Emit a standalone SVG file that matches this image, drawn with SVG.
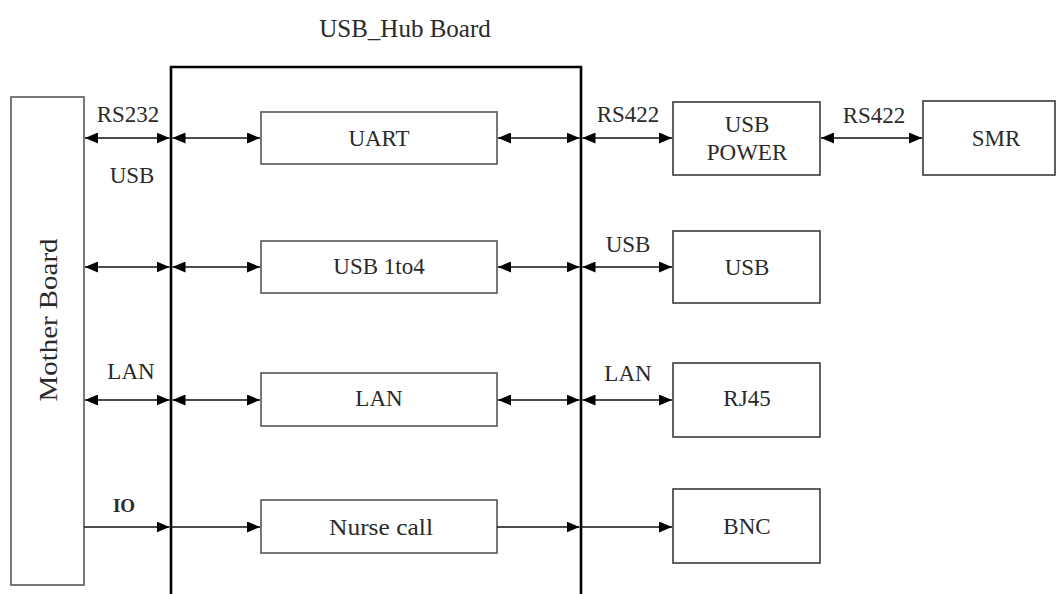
<svg xmlns="http://www.w3.org/2000/svg" width="1057" height="594" viewBox="0 0 1057 594">
  <style>
    text { font-family: 'Liberation Serif', 'DejaVu Serif', serif; }
    .t { font-size: 23px; fill: #2a2a2a; text-anchor: middle; }
    .box { fill: #ffffff; stroke: #555555; stroke-width: 1.6; }
    .rbox { fill: #ffffff; stroke: #3a3a3a; stroke-width: 1.6; }
    .c { stroke: #111111; stroke-width: 1.6; fill: none; }
  </style>
  <defs>
    <marker id="ah" markerUnits="userSpaceOnUse" markerWidth="13" markerHeight="11" viewBox="0 0 13 11" refX="13" refY="5.5" orient="auto-start-reverse">
      <path d="M0,0 L13,5.5 L0,11 z" fill="#000000"/>
    </marker>
  </defs>
  <rect x="0" y="0" width="1057" height="594" fill="#ffffff"/>

  <g id="title" font-family="Liberation Serif, serif">
    <text class="t" x="405" y="37" font-size="25" style="font-size:25px">USB_Hub Board</text>
  </g>

  <g id="hub-board">
    <path d="M171,594 V67 H581 V594" fill="none" stroke="#000000" stroke-width="2.6"/>
  </g>

  <g id="mother-board" font-family="Liberation Serif, serif">
    <rect x="11" y="97" width="73" height="488" fill="#ffffff" stroke="#6a6a6a" stroke-width="1.8"/>
    <text class="t" transform="translate(57,320) rotate(-90)" x="0" y="0" style="font-size:25px" textLength="163" lengthAdjust="spacingAndGlyphs">Mother Board</text>
  </g>

  <g id="uart" font-family="Liberation Serif, serif">
    <rect class="box" x="261" y="112" width="236" height="52"/>
    <text class="t" x="379" y="146">UART</text>
  </g>
  <g id="usb1to4" font-family="Liberation Serif, serif">
    <rect class="box" x="261" y="241" width="236" height="52"/>
    <text class="t" x="379" y="274">USB 1to4</text>
  </g>
  <g id="lan" font-family="Liberation Serif, serif">
    <rect class="box" x="261" y="373" width="236" height="53"/>
    <text class="t" x="379" y="406">LAN</text>
  </g>
  <g id="nurse-call" font-family="Liberation Serif, serif">
    <rect class="box" x="261" y="500" width="236" height="53"/>
    <text class="t" x="381" y="535" textLength="104" lengthAdjust="spacingAndGlyphs">Nurse call</text>
  </g>

  <g id="usb-power" font-family="Liberation Serif, serif">
    <rect class="rbox" x="673" y="102" width="147" height="73"/>
    <text class="t" x="747" y="132">USB</text>
    <text class="t" x="747" y="160">POWER</text>
  </g>
  <g id="smr" font-family="Liberation Serif, serif">
    <rect class="rbox" x="923" y="101" width="132" height="74"/>
    <text class="t" x="996" y="146">SMR</text>
  </g>
  <g id="usb" font-family="Liberation Serif, serif">
    <rect class="rbox" x="673" y="231" width="147" height="72"/>
    <text class="t" x="747" y="275">USB</text>
  </g>
  <g id="rj45" font-family="Liberation Serif, serif">
    <rect class="rbox" x="673" y="363" width="147" height="74"/>
    <text class="t" x="747" y="406">RJ45</text>
  </g>
  <g id="bnc" font-family="Liberation Serif, serif">
    <rect class="rbox" x="673" y="489" width="147" height="74"/>
    <text class="t" x="747" y="534">BNC</text>
  </g>

  <g id="connectors" font-family="Liberation Serif, serif">
    <!-- row 1 -->
    <line class="c" x1="85" y1="138" x2="169.5" y2="138" marker-start="url(#ah)" marker-end="url(#ah)"/>
    <line class="c" x1="172.5" y1="138" x2="260" y2="138" marker-start="url(#ah)" marker-end="url(#ah)"/>
    <line class="c" x1="498" y1="138" x2="579.5" y2="138" marker-start="url(#ah)" marker-end="url(#ah)"/>
    <line class="c" x1="582.5" y1="138" x2="672" y2="138" marker-start="url(#ah)" marker-end="url(#ah)"/>
    <line class="c" x1="821" y1="138" x2="922" y2="138" marker-start="url(#ah)" marker-end="url(#ah)"/>
    <!-- row 2 -->
    <line class="c" x1="85" y1="267" x2="169.5" y2="267" marker-start="url(#ah)" marker-end="url(#ah)"/>
    <line class="c" x1="172.5" y1="267" x2="260" y2="267" marker-start="url(#ah)" marker-end="url(#ah)"/>
    <line class="c" x1="498" y1="267" x2="579.5" y2="267" marker-start="url(#ah)" marker-end="url(#ah)"/>
    <line class="c" x1="582.5" y1="267" x2="672" y2="267" marker-start="url(#ah)" marker-end="url(#ah)"/>
    <!-- row 3 -->
    <line class="c" x1="85" y1="400" x2="169.5" y2="400" marker-start="url(#ah)" marker-end="url(#ah)"/>
    <line class="c" x1="172.5" y1="400" x2="260" y2="400" marker-start="url(#ah)" marker-end="url(#ah)"/>
    <line class="c" x1="498" y1="400" x2="579.5" y2="400" marker-start="url(#ah)" marker-end="url(#ah)"/>
    <line class="c" x1="582.5" y1="400" x2="672" y2="400" marker-start="url(#ah)" marker-end="url(#ah)"/>
    <!-- row 4 -->
    <line class="c" x1="84" y1="527" x2="169.5" y2="527" marker-end="url(#ah)"/>
    <line class="c" x1="171" y1="527" x2="260" y2="527" marker-end="url(#ah)"/>
    <line class="c" x1="497" y1="527" x2="579.5" y2="527" marker-end="url(#ah)"/>
    <line class="c" x1="581" y1="527" x2="672" y2="527" marker-end="url(#ah)"/>

    <text class="t" x="128" y="122">RS232</text>
    <text class="t" x="132" y="183">USB</text>
    <text class="t" x="131" y="379">LAN</text>
    <text class="t" x="124" y="512" style="font-size:19px;font-weight:bold">IO</text>
    <text class="t" x="628" y="122">RS422</text>
    <text class="t" x="874" y="123">RS422</text>
    <text class="t" x="628" y="252">USB</text>
    <text class="t" x="628" y="381">LAN</text>
  </g>
</svg>
